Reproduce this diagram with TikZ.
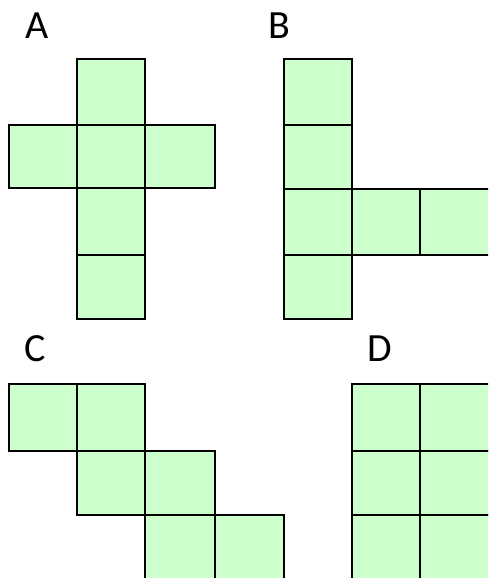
\documentclass[tikz,border=0pt]{standalone}
\usepackage{fontspec}
\setmainfont{Carlito}
\usepackage{xcolor}
\usepackage{tikz}
\usetikzlibrary{positioning}

\definecolor{netgreen}{HTML}{CCFFCC}

\begin{document}
\begin{tikzpicture}[
  x=1pt, y=-1pt,
  cell/.style={draw=black, fill=netgreen, line width=2pt},
  letter/.style={anchor=base west, inner sep=0pt, font=\fontsize{40}{40}\selectfont}
]
\useasboundingbox (0,0) rectangle (488,578);
\clip (0,0) rectangle (488,578);

% net A
\node[letter] (labA) at (25,38) {A};
\foreach \xa/\ya/\xb/\yb in {77/59/145/125, 9/125/77/188, 77/125/145/188, 145/125/215/188,
                             77/188/145/255, 77/255/145/319}
  \draw[cell] (\xa,\ya) rectangle (\xb,\yb);

% net B
\node[letter] (labB) at (268,38) {B};
\foreach \xa/\ya/\xb/\yb in {284/59/352/125, 284/125/352/189, 284/189/352/255, 284/255/352/319,
                             352/189/420/255, 420/189/492/255}
  \draw[cell] (\xa,\ya) rectangle (\xb,\yb);

% net C
\node[letter] (labC) at (24,361) {C};
\foreach \xa/\ya/\xb/\yb in {9/384/77/451, 77/384/145/451, 77/451/145/515, 145/451/215/515,
                             145/515/215/582, 215/515/284/582}
  \draw[cell] (\xa,\ya) rectangle (\xb,\yb);

% net D
\node[letter] (labD) at (367,361) {D};
\foreach \xa/\ya/\xb/\yb in {352/384/420/451, 420/384/492/451, 352/451/420/515, 420/451/492/515,
                             352/515/420/582, 420/515/492/582}
  \draw[cell] (\xa,\ya) rectangle (\xb,\yb);

\end{tikzpicture}
\end{document}
